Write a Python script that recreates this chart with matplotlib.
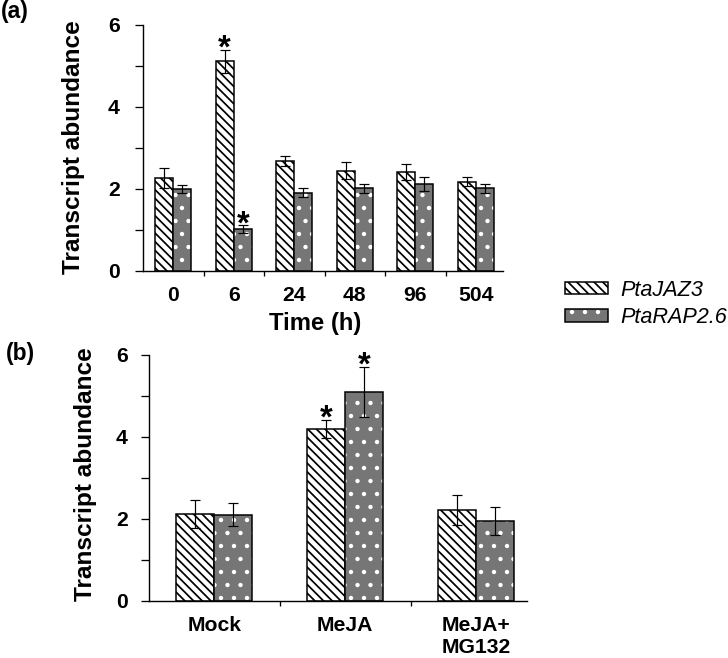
import numpy as np
import matplotlib
matplotlib.use("Agg")
import matplotlib.pyplot as plt
from matplotlib.patches import Patch

# ---------------- data ----------------
times = ['0', '6', '24', '48', '96', '504']
jaz3_a = [2.27, 5.12, 2.68, 2.45, 2.42, 2.18]
jaz3_a_err = [0.24, 0.28, 0.13, 0.20, 0.19, 0.11]
rap_a = [2.00, 1.02, 1.91, 2.02, 2.12, 2.02]
rap_a_err = [0.10, 0.09, 0.11, 0.11, 0.18, 0.11]
sig_jaz3_a = [False, True, False, False, False, False]
sig_rap_a = [False, True, False, False, False, False]

treatments = ['Mock', 'MeJA', 'MeJA+\nMG132']
jaz3_b = [2.12, 4.19, 2.22]
jaz3_b_err = [0.34, 0.22, 0.37]
rap_b = [2.10, 5.10, 1.96]
rap_b_err = [0.28, 0.61, 0.34]
sig_jaz3_b = [False, True, False]
sig_rap_b = [False, True, False]

series_names = ['PtaJAZ3', 'PtaRAP2.6']
y_major = [0, 2, 4, 6]
y_minor = [1, 3, 5]

# ---------------- style ----------------
DPI = 78
plt.rcParams['font.family'] = ['Liberation Sans', 'DejaVu Sans']
plt.rcParams['font.weight'] = 'bold'
plt.rcParams['hatch.linewidth'] = 1.6
GRAY = '#767676'
HATCH = '\\\\\\'
LW = 1.4
TICK_FS = 19.5

fig = plt.figure(figsize=(728 / DPI, 658 / DPI), dpi=DPI)
ax1 = fig.add_axes([143 / 728, 1 - 271 / 658, 360 / 728, 246 / 658])
ax2 = fig.add_axes([149 / 728, 1 - 601 / 658, 378 / 728, 246 / 658])


def draw_panel(ax, cats, v1, e1, v2, e2, s1, s2, width, xmax, ypad):
    x = np.arange(len(cats))
    ax.bar(x - width / 2, v1, width, facecolor='white', edgecolor='black',
           hatch=HATCH, linewidth=LW, zorder=2)
    ax.bar(x + width / 2, v2, width, facecolor=GRAY, edgecolor='white',
           hatch='.', linewidth=0, zorder=2)
    ax.bar(x + width / 2, v2, width, fill=False, edgecolor='black',
           linewidth=LW, zorder=3)
    ax.errorbar(x - width / 2, v1, yerr=e1, fmt='none', ecolor='black',
                elinewidth=1.1, capsize=4.5, capthick=1.1, zorder=4)
    ax.errorbar(x + width / 2, v2, yerr=e2, fmt='none', ecolor='black',
                elinewidth=1.1, capsize=4.5, capthick=1.1, zorder=4)
    for xi, v, e, s in zip(x - width / 2, v1, e1, s1):
        if s:
            ax.annotate('*', (xi, v + e), xytext=(0, -7), textcoords='offset points',
                        ha='center', va='baseline', fontsize=30, fontweight='bold')
    for xi, v, e, s in zip(x + width / 2, v2, e2, s2):
        if s:
            ax.annotate('*', (xi, v + e), xytext=(0, -7), textcoords='offset points',
                        ha='center', va='baseline', fontsize=30, fontweight='bold')
    ax.set_xlim(-0.5, xmax)
    ax.set_ylim(0, 6)
    ax.set_yticks(y_major)
    ax.set_yticks(y_minor, minor=True)
    ax.set_xticks(x)
    ax.set_xticklabels(cats)
    ax.set_xticks(np.arange(0.5, len(cats) - 0.5), minor=True)
    for sp in ['top', 'right']:
        ax.spines[sp].set_visible(False)
    for sp in ['left', 'bottom']:
        ax.spines[sp].set_linewidth(1.3)
    ax.tick_params(axis='y', which='both', direction='out', length=7.4,
                   width=1.2, labelsize=TICK_FS, pad=ypad)
    ax.tick_params(axis='x', which='major', length=0, labelsize=TICK_FS, pad=14)
    ax.tick_params(axis='x', which='minor', direction='out', length=4.6, width=1.2)
    ax.set_ylabel('Transcript abundance', fontsize=22.5, fontweight='bold')


draw_panel(ax1, times, jaz3_a, jaz3_a_err, rap_a, rap_a_err,
           sig_jaz3_a, sig_rap_a, 0.3, 5.45, 14)
draw_panel(ax2, treatments, jaz3_b, jaz3_b_err, rap_b, rap_b_err,
           sig_jaz3_b, sig_rap_b, 0.29, 2.39, 12)

ax1.yaxis.set_label_coords(-0.161, 0.505)
ax2.yaxis.set_label_coords(-0.1376, 0.515)
ax1.set_xlabel('Time (h)', fontsize=22, fontweight='bold')
ax1.xaxis.set_label_coords(0.478, -0.168)

fig.text(1 / 728, 1 - 0 / 658, '(a)', ha='left', va='top', fontsize=21, fontweight='bold')
fig.text(6 / 728, 1 - 342 / 658, '(b)', ha='left', va='top', fontsize=21, fontweight='bold')

h1 = Patch(facecolor='white', edgecolor='black', hatch=HATCH, linewidth=LW)
h2 = (Patch(facecolor=GRAY, edgecolor='white', hatch='.', linewidth=0),
      Patch(fill=False, edgecolor='black', linewidth=LW))
fig.legend([h1, h2], series_names, loc='center left',
           bbox_to_anchor=(565 / 728, 1 - 304 / 658), frameon=False,
           prop=dict(family='Liberation Sans', style='italic', weight='normal', size=20),
           handlelength=2.0, handleheight=0.5, handletextpad=0.55,
           labelspacing=0.3, borderpad=0, borderaxespad=0)

fig.savefig('out.png', dpi=DPI)
